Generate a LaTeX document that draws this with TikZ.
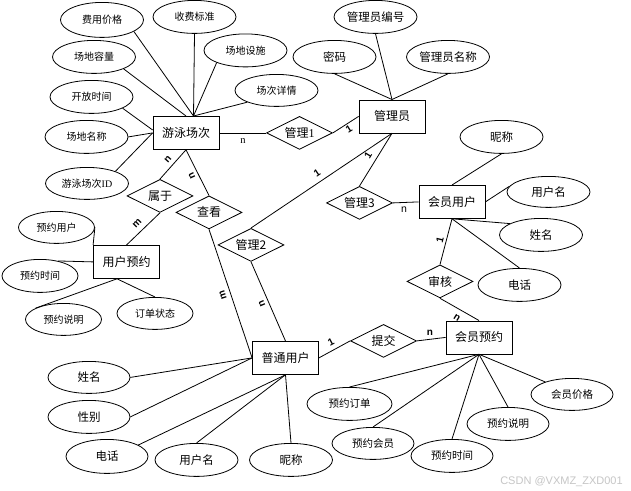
\documentclass[tikz,border=0pt]{standalone}
\usepackage{fontspec}
\setmainfont{Noto Sans CJK SC}
\newfontfamily\latinsans{Liberation Sans}
\newfontfamily\latinserif{Liberation Serif}
\usetikzlibrary{shapes.geometric,calc}
\begin{document}
\begin{tikzpicture}[x=1pt,y=-1pt,line width=0.8pt,
  ent/.style={draw, rectangle, minimum width=66pt, minimum height=33pt, inner sep=0pt, font=\fontsize{12}{14}\selectfont},
  rel/.style={draw, diamond, aspect=2, minimum width=66pt, minimum height=33pt, inner sep=0pt, font=\fontsize{12}{14}\selectfont},
  attr/.style={draw, ellipse, minimum width=83pt, minimum height=33pt, inner sep=0pt},
  sattr/.style={attr, font=\fontsize{10}{12}\selectfont},
  mattr/.style={attr, font=\fontsize{10.5}{12}\selectfont, minimum width=82pt},
  lattr/.style={attr, font=\fontsize{11.5}{13}\selectfont},
  yattr/.style={attr, font=\fontsize{10}{12}\selectfont, minimum width=76pt, minimum height=32pt},
  card/.style={font=\latinsans\bfseries\fontsize{10}{12}\selectfont, inner sep=0pt},
  plain/.style={inner sep=0pt, font=\fontsize{10}{12}\selectfont}]
\fill[white] (0,0) rectangle (631,490);
% entities
\node[ent] (ys) at (186,132.5) {游泳场次};
\node[ent] (gly) at (392,116) {管理员};
\node[ent] (hy) at (452,201.5) {会员用户};
\node[ent] (yy) at (126.5,261.5) {用户预约};
\node[ent] (pt) at (285.5,357.5) {普通用户};
\node[ent] (hyy) at (479,337) {会员预约};
% relationships
\node[rel] (gl1) at (299.5,132.5) {管理{\latinserif 1}};
\node[rel] (gl3) at (359.5,202.5) {管理3};
\node[rel] (sh) at (440,281) {审核};
\node[rel] (tj) at (383.5,340.5) {提交};
\node[rel] (sy) at (160,195.5) {属于};
\node[rel] (ck) at (209,212) {查看};
\node[rel] (gl2) at (251,244.5) {管理2};
% attributes of 游泳场次
\node[sattr, minimum height=35pt] (fy) at (102,19.5) {费用价格};
\node[sattr] (sf) at (194.5,16.5) {收费标准};
\node[sattr] (ss) at (245.5,50) {场地设施};
\node[sattr] (rl) at (94,56.5) {场地容量};
\node[sattr, minimum height=32pt] (xq) at (276.5,90) {场次详情};
\node[sattr] (kf) at (91.5,96.5) {开放时间};
\node[sattr] (mc) at (86.5,136.5) {场地名称};
\node[sattr, minimum height=32pt] (id) at (87,183) {游泳场次{\latinserif ID}};
% attributes of 管理员
\node[lattr] (bh) at (375.5,16.5) {管理员编号};
\node[lattr] (mm) at (334.5,56.5) {密码};
\node[lattr] (mc2) at (448,56.5) {管理员名称};
% attributes of 会员用户
\node[lattr] (nc1) at (501.5,136.5) {昵称};
\node[lattr, minimum height=31pt] (yhm1) at (548.5,191.5) {用户名};
\node[lattr] (xm1) at (541,234.5) {姓名};
\node[lattr] (dh1) at (519.5,284.5) {电话};
% attributes of 用户预约
\node[yattr] (yyyh) at (56.5,227) {预约用户};
\node[yattr, minimum height=33pt] (yysj1) at (40,275.5) {预约时间};
\node[yattr] (yysm1) at (63.5,319) {预约说明};
\node[yattr] (ddzt) at (155,313) {订单状态};
% attributes of 普通用户
\node[lattr, minimum width=82pt, minimum height=32pt] (xm2) at (89,377) {姓名};
\node[lattr, minimum width=82pt] (xb) at (89,416.5) {性别};
\node[lattr, minimum width=82pt, minimum height=34pt] (dh2) at (107,456) {电话};
\node[lattr] (yhm2) at (196.5,459.5) {用户名};
\node[lattr] (nc2) at (291,459.5) {昵称};
% attributes of 会员预约
\node[mattr, minimum width=85pt] (yydd) at (349.5,403.5) {预约订单};
\node[mattr, minimum height=32pt] (yyhy) at (373,443) {预约会员};
\node[mattr] (yysj2) at (452,455.5) {预约时间};
\node[mattr] (yysm2) at (508,423.5) {预约说明};
\node[mattr, minimum height=32pt] (hyjg) at (572,394) {会员价格};
% helper coordinates
\coordinate (ysT) at ($(ys.north)+(7.5,0)$);
\coordinate (yyB) at ($(yy.south)+(-9.5,0)$);
% attribute connectors
\draw (fy.-20) -- (ysT);
\draw (sf.south) -- (ysT);
\draw (ss.-157) -- (ysT);
\draw (xq.-158) -- (ysT);
\draw (rl.-22) -- (ys.north);
\draw (kf.-20) -- (ys.175);
\draw (mc.east) -- (ys.west);
\draw (id.23) -- (ys.west);
\draw (bh.south) -- (gly.north);
\draw (mm.south) -- (gly.north);
\draw (mc2.south) -- (gly.north);
\draw (nc1.south) -- (hy.north);
\draw (yhm1.172) -- (hy.east);
\draw (xm1.160) -- (hy.south);
\draw (dh1.north) -- (hy.south);
\draw (yyyh.east) -- (yy.north west);
\draw (yysj1.40) -- (yy.west);
\draw (yysm1.158) -- (yyB);
\draw (ddzt.north) -- (yyB);
\draw (xm2.east) -- (pt.west);
\draw (xb.east) -- (pt.west);
\draw (dh2.20) -- (pt.south);
\draw (yhm2.north) -- (pt.south);
\draw (nc2.north) -- (pt.south);
\draw (yydd.north) -- (hyy.south);
\draw (yyhy.north) -- (hyy.south);
\draw (yysj2.north) -- (hyy.south);
\draw (yysm2.north) -- (hyy.south);
\draw (hyjg.155) -- (hyy.south);
% relationship connectors
\draw (ys.east) -- (gl1.west);
\draw (gl1.east) -- (gly.west);
\draw (gly.south) -- (gl2.north);
\draw (gly.south) -- (gl3.north);
\draw (gl3.east) -- (hy.west);
\draw (hy.south) -- (sh.north);
\draw (sh.south) -- (hyy.north);
\draw (pt.east) -- (tj.west);
\draw (tj.east) -- (hyy.west);
\draw (ys.south) -- (sy.north);
\draw (ys.south) -- (ck.north);
\draw (sy.south) -- (yy.north);
\draw (ck.south) -- (pt.west);
\draw (gl2.south) -- (pt.north);
% cardinalities
\node[plain, font=\latinserif\fontsize{10.5}{12}\selectfont] (c1) at (243,141) {n};
\node[card, rotate=32] (c2) at (349,129) {1};
\node[card, rotate=34] (c3) at (317,173) {1};
\node[card, rotate=59] (c4) at (368,155) {1};
\node[plain, font=\latinsans\fontsize{10.5}{12}\selectfont] (c5) at (404,209) {n};
\node[card, rotate=48] (c6) at (168,159) {n};
\node[card, rotate=115] (c7) at (192,175) {n};
\node[card, rotate=45] (c8) at (137,223) {m};
\node[card, rotate=108] (c9) at (223,295) {m};
\node[card, rotate=113] (c10) at (262,303) {n};
\node[card, rotate=76] (c11) at (440,240) {1};
\node[card, rotate=-32] (c12) at (457,317) {n};
\node[card, rotate=28] (c13) at (331,342) {1};
\node[card] (c14) at (430,332) {n};
% watermark
\node[text=gray!45, inner sep=0pt, font=\latinsans\fontsize{11}{12}\selectfont] (wm) at (561.5,481) {CSDN @VXMZ\_ZXD001};
\end{tikzpicture}
\end{document}
